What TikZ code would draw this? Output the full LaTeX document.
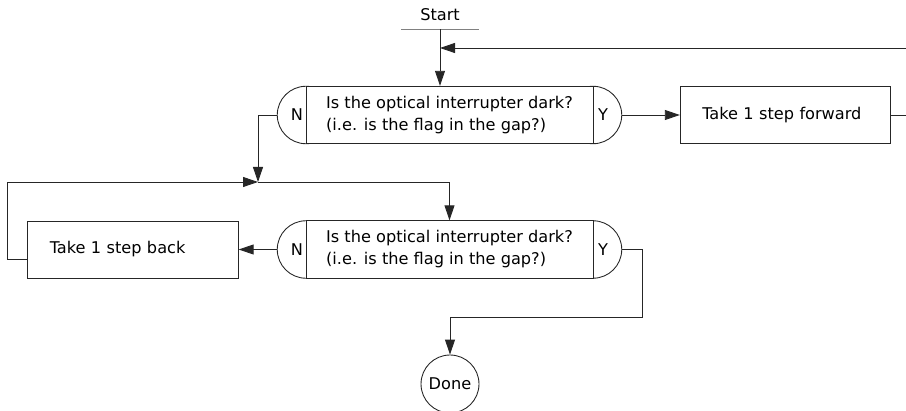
\documentclass[tikz,border=0pt]{standalone}
\usepackage{fontspec}
\setmainfont{DejaVu Sans}
\usetikzlibrary{positioning,arrows.meta}
\tikzset{
  >={Triangle[length=3mm,width=2mm]},
  flow/.style ={line width=0.5pt, black!85},
}

\begin{document}
\begin{tikzpicture}[x=0.02cm, y=-0.02cm, font=\fontsize{9.2}{12.5}\selectfont,
  action/.style={draw, line width=0.5pt, black!85, text=black, minimum height=1.14cm,
    text width=3.33cm, inner xsep=0.44cm, align=left},
  question/.style={draw, line width=0.5pt, black!85, text=black, fill=white,
    minimum width=5.74cm, minimum height=1.15cm, align=left},
  endcap/.style={draw, line width=0.5pt, black!85, circle, minimum size=1.15cm, inner sep=0pt},
  answer/.style={inner sep=0pt},
  final/.style={draw, line width=0.5pt, black!85, text=black, circle, minimum size=1.16cm, inner sep=0pt},
  startbar/.style={line width=0.5pt, gray}
]
\useasboundingbox (0,0) rectangle (906,411);

%--- Start ---
\node[minimum width=1.54cm, minimum height=0.56cm, inner sep=0pt] (start) at (440,15) {Start};
\draw[startbar] (start.south west) -- (start.south east);

%--- First question ---
\node[endcap] (q1n) at (306,115) {};
\node[endcap] (q1y) at (593,115) {};
\node[question] (q1) at (449.5,115)
  {Is the optical interrupter dark?\\(i.e. is the flag in the gap?)};
\node[answer] (q1nlab) at (297,115) {N};
\node[answer] (q1ylab) at (603,115) {Y};

\node[action] (fwd) at (785.5,115) {Take 1 step forward};

%--- Second question ---
\node[endcap] (q2n) at (306,249.5) {};
\node[endcap] (q2y) at (593,249.5) {};
\node[question] (q2) at (449.5,249.5)
  {Is the optical interrupter dark?\\(i.e. is the flag in the gap?)};
\node[answer] (q2nlab) at (297,249.5) {N};
\node[answer] (q2ylab) at (603,249.5) {Y};

\node[action] (back) at (133,249.5) {Take 1 step back};

\node[final] (done) at (450,384) {Done};

%--- Connectors ---
\coordinate (merge) at (258,182);
\coordinate (loopin) at (906,48);
\coordinate (fwdout) at (906,115);
\coordinate (bend) at (642,317);

\draw[flow,->] (start.south) -- (start.south |- q1.north);
\draw[flow,->] (loopin) -- (loopin -| start.south);
\draw[flow,->] (q1y.east) -- (fwd.west);
\draw[flow] (fwd.east) -- (fwdout);
\draw[flow,->] (q1n.west) -| (merge);
\draw[flow,->] ([yshift=-0.19cm]back.west) -- ++(-20,0) |- (merge);
\draw[flow,->] (merge) -| (q2.north);
\draw[flow,->] (q2n.west) -- (back.east);
\draw[flow,->] (q2y.east) -| (bend) -| (done.north);

\end{tikzpicture}
\end{document}
